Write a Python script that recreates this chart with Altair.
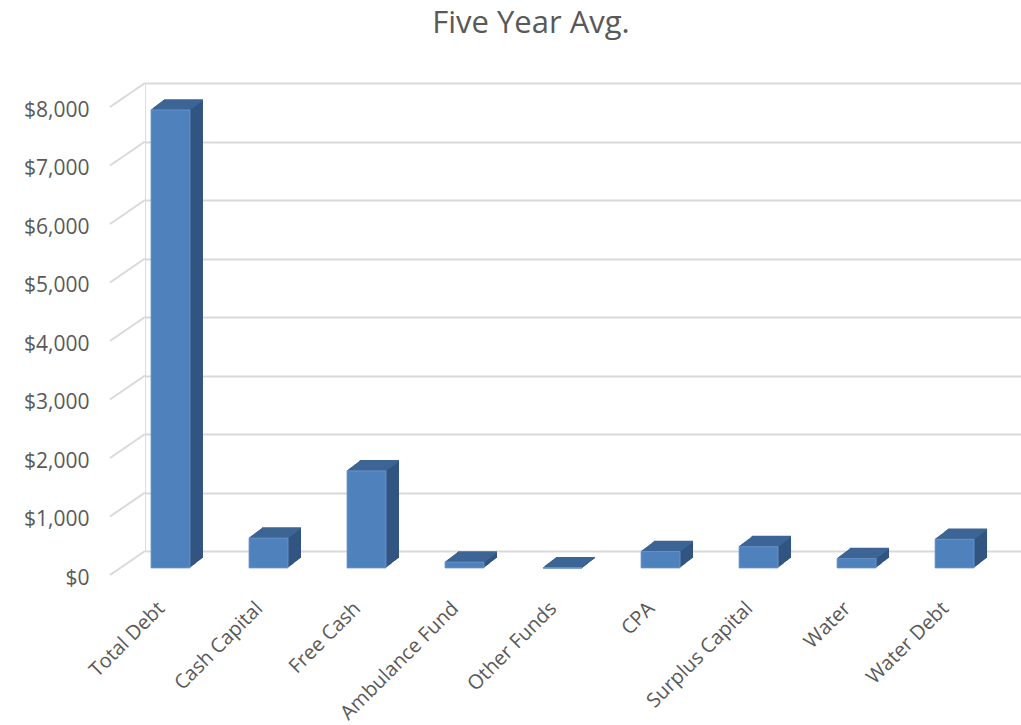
import altair as alt
import pandas as pd

categories = ["Total Debt", "Cash Capital", "Free Cash", "Ambulance Fund", "Other Funds",
              "CPA", "Surplus Capital", "Water", "Water Debt"]
values = [7830, 510, 1660, 100, 5, 280, 365, 160, 490]
tick_values = [0, 1000, 2000, 3000, 4000, 5000, 6000, 7000, 8000]

df = pd.DataFrame({"category": categories, "value": values})
ticks = pd.DataFrame({"v": tick_values})

FONT = "Open Sans"
GRID = "#d9d9d9"
TEXT = "#595959"
FRONT = "#4f81bd"
SIDE = "#325480"
TOP = "#3c6594"

DEPTH_X = 13
DEPTH_Y = 10
FLOOR = 17

xscale = alt.Scale(domain=categories, paddingInner=0.602, paddingOuter=0.27, align=0.113)
yscale = alt.Scale(domain=[0, 8000], nice=False, zero=True)

xaxis = alt.Axis(labelAngle=-45, labelAlign="right", labelBaseline="middle",
                 labelPadding=54, labelOffset=-9, ticks=False, tickSize=0, domain=False,
                 labelFont=FONT, labelFontSize=20, labelColor=TEXT, grid=False,
                 labelOverlap=False, title=None)
yaxis = alt.Axis(values=tick_values, format="$,.0f", grid=True, gridColor=GRID,
                 gridWidth=2, domain=False, ticks=False, tickSize=0,
                 labelPadding=56, labelOffset=27, labelFont=FONT, labelFontSize=21,
                 labelColor=TEXT, labelBaseline="middle", title=None)

base = alt.Chart(df)

layers = []

# invisible layer that carries the axes
layers.append(
    base.mark_bar(opacity=0).encode(
        x=alt.X("category:N", sort=categories, scale=xscale, axis=xaxis, title=None),
        y=alt.Y("value:Q", scale=yscale, axis=yaxis, title=None),
    )
)

# diagonal floor ticks on the left
layers.append(
    alt.Chart(ticks).mark_rule(color=GRID, strokeWidth=2, y2Offset=24).encode(
        y=alt.Y("v:Q", scale=yscale),
        y2="v:Q",
        x=alt.value(0),
        x2=alt.value(-35),
    )
)

xe = alt.X("category:N", sort=categories, scale=xscale)
ye = alt.Y("value:Q", scale=yscale)

# side faces (extrusion sweep)
for i in range(1, DEPTH_X + 1):
    dy = FLOOR - i * DEPTH_Y / DEPTH_X
    layers.append(
        base.mark_bar(color=SIDE, xOffset=i, x2Offset=i, yOffset=dy, y2Offset=dy).encode(
            x=xe, y=ye
        )
    )

# top faces
for i in range(0, DEPTH_X + 1):
    dy = FLOOR - i * DEPTH_Y / DEPTH_X
    layers.append(
        base.mark_bar(color=TOP, xOffset=i, x2Offset=i, yOffset=dy - 0.8, y2Offset=dy + 0.8).encode(
            x=xe, y=ye, y2="value:Q"
        )
    )

# front faces
layers.append(
    base.mark_bar(color=FRONT, stroke="#6e9bd3", strokeWidth=0.8,
                  yOffset=FLOOR, y2Offset=FLOOR).encode(x=xe, y=ye)
)

chart = alt.layer(*layers).properties(
    width=876,
    height=468,
    autosize=alt.AutoSizeParams(type="none"),
    padding={"left": 145, "top": 83, "right": 0, "bottom": 174},
    title=alt.TitleParams("Five Year Avg.", font=FONT, fontSize=31, fontWeight="normal",
                          color=TEXT, anchor="middle", frame="group", dx=-52, offset=18,
                          baseline="alphabetic"),
).configure_view(strokeWidth=0, stroke="transparent").configure(background="white")

chart.save("out.html", embed_options={"renderer": "svg", "actions": False})
